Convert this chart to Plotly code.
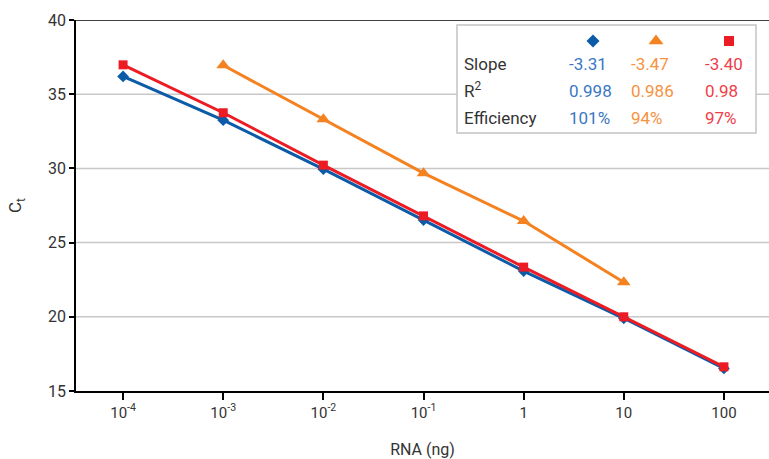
import plotly.graph_objects as go

# Standard curves: Ct versus RNA input (log10 ng)
log_rna = [-4, -3, -2, -1, 0, 1, 2]
tick_labels = ["10<sup>-4</sup>", "10<sup>-3</sup>", "10<sup>-2</sup>", "10<sup>-1</sup>", "1", "10", "100"]
ct_ticks = [15, 20, 25, 30, 35, 40]

ct_blue = [36.2, 33.25, 29.95, 26.52, 23.08, 19.9, 16.52]
ct_orange = [None, 36.95, 33.32, 29.68, 26.45, 22.33, None]
ct_red = [36.98, 33.75, 30.22, 26.8, 23.35, 20.0, 16.63]

row_labels = ["Slope", "R<sup>2</sup>", "Efficiency"]
stats_blue = ["-3.31", "0.998", "101%"]
stats_orange = ["-3.47", "0.986", "94%"]
stats_red = ["-3.40", "0.98", "97%"]

LINE_BLUE, LINE_ORANGE, LINE_RED = "#0b5ba8", "#f58220", "#ec1c24"
TEXT_BLUE, TEXT_ORANGE, TEXT_RED = "#3b78c3", "#f7923f", "#ef3e4a"
FONT = "Roboto, 'DejaVu Sans', sans-serif"

fig = go.Figure()

series = [
    (ct_blue, LINE_BLUE, "diamond", 9),
    (ct_orange, LINE_ORANGE, "triangle-up", 12),
    (ct_red, LINE_RED, "square", 9),
]
for ys, col, sym, size in series:
    fig.add_trace(go.Scatter(
        x=log_rna, y=ys, mode="lines+markers",
        line=dict(color=col, width=3),
        marker=dict(symbol=sym, size=size, color=col),
        connectgaps=False, showlegend=False, hoverinfo="skip",
    ))

# Stats box content lives on an overlay axis (0..1) covering the plot area
W, H, L, T, B = 769, 459, 76, 20, 68
pw, ph = W - L, H - T - B


def px(x):
    return (x - L) / pw


def py(y):
    return (H - B - y) / ph


key_x = [593, 656, 729]
for (ys, col, sym, size), kx in zip(series, key_x):
    fig.add_trace(go.Scatter(
        x=[px(kx)], y=[py(41)], xaxis="x2", yaxis="y2", mode="markers",
        marker=dict(symbol=sym, size=size + 1, color=col),
        showlegend=False, hoverinfo="skip",
    ))

row_y = [py(v) for v in (66, 93, 120)]
columns = [
    (row_labels, "#333333", 464),
    (stats_blue, TEXT_BLUE, 569),
    (stats_orange, TEXT_ORANGE, 631),
    (stats_red, TEXT_RED, 705),
]
for texts, col, cx in columns:
    fig.add_trace(go.Scatter(
        x=[px(cx)] * len(texts), y=row_y, xaxis="x2", yaxis="y2",
        mode="text", text=texts, textposition="middle right",
        textfont=dict(family=FONT, size=17, color=col),
        showlegend=False, hoverinfo="skip", cliponaxis=False,
    ))

# Grid lines, then the white stats box over them (both beneath the traces)
shapes = [
    dict(type="line", xref="paper", yref="y", x0=0, x1=1, y0=v, y1=v, layer="below",
         line=dict(color="#c8c8c8", width=1.5))
    for v in ct_ticks[1:-1]
]
shapes += [
    dict(type="rect", xref="paper", yref="paper", x0=px(457), x1=px(756), y0=py(133), y1=py(25),
         line=dict(color="#c4c4c4", width=1.5), fillcolor="white", layer="below"),
    dict(type="line", xref="paper", yref="y", x0=0, x1=1, y0=40, y1=40, layer="above",
         line=dict(color="black", width=1.5)),
]

fig.update_layout(
    width=W, height=H,
    margin=dict(l=L, r=0, t=T, b=B, pad=0),
    paper_bgcolor="white", plot_bgcolor="white",
    font=dict(family=FONT, size=14, color="#333333"),
    xaxis=dict(
        range=[-4.47, 2.45], tickmode="array", tickvals=log_rna, ticktext=tick_labels,
        showline=True, linecolor="black", linewidth=1.5,
        ticks="outside", ticklen=7, tickwidth=1.5, tickcolor="black",
        showgrid=False, zeroline=False,
        tickfont=dict(family=FONT, size=15, color="#333333"),
        title=dict(text="RNA (ng)", font=dict(family=FONT, size=16, color="#333333"), standoff=24),
    ),
    yaxis=dict(
        range=[15, 40], tickmode="array", tickvals=ct_ticks,
        showline=True, linecolor="black", linewidth=1.5,
        ticks="outside", ticklen=5, tickwidth=1.5, tickcolor="black",
        showgrid=False, zeroline=False,
        tickfont=dict(family=FONT, size=16, color="#333333"),
        title=dict(text="C<sub>t</sub>", font=dict(family=FONT, size=17, color="#333333"), standoff=22),
    ),
    xaxis2=dict(range=[0, 1], overlaying="x", visible=False, fixedrange=True),
    yaxis2=dict(range=[0, 1], overlaying="y", visible=False, fixedrange=True),
    shapes=shapes,
)

fig.write_html("out.html")
